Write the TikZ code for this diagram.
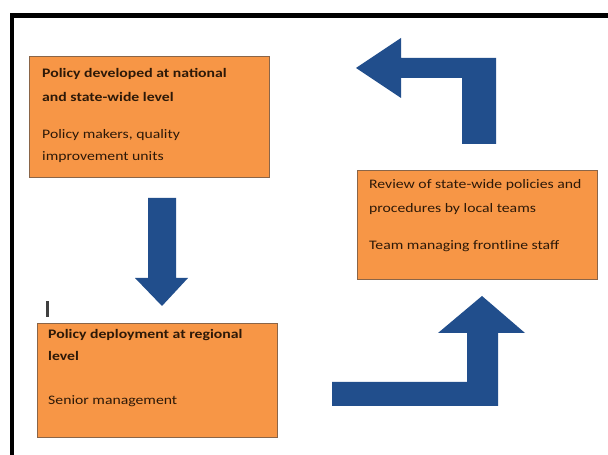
\documentclass[tikz,border=0pt]{standalone}
\usepackage{fontspec}
\setmainfont{Carlito}[FakeStretch=1.21]
\definecolor{boxfill}{HTML}{F79646}
\definecolor{boxline}{HTML}{8A6548}
\definecolor{arrowblue}{RGB}{33,78,140}
\definecolor{txt}{RGB}{45,25,8}
\begin{document}
\begin{tikzpicture}[x=1pt,y=1pt,
  boxshape/.style={draw=boxline,fill=boxfill,line width=1.2pt,inner sep=0pt,anchor=north west},
  boldline/.style={anchor=base west,inner sep=0pt,text=txt,font=\fontsize{13}{16}\selectfont\bfseries},
  plainline/.style={anchor=base west,inner sep=0pt,text=txt,font=\fontsize{13}{16}\selectfont},
  blockarrow/.style={fill=arrowblue,draw=none}]
\useasboundingbox (0,0) rectangle (608,455);
\fill[white] (0,0) rectangle (608,455);
% frame
\draw[line width=4.5pt,line join=miter] (12,0) -- (12,439.5) -- (608,439.5);
% boxes
\node[boxshape,minimum width=240pt,minimum height=121pt] (b1) at (29,399) {};
\node[boxshape,minimum width=240pt,minimum height=114pt] (b2) at (37,132) {};
\node[boxshape,minimum width=240pt,minimum height=109pt] (b3) at (357,285) {};
% box 1 text
\node[boldline] (t1a) at (42,377) {Policy developed at national};
\node[boldline] (t1b) at (42,353) {and state-wide level};
\node[plainline] (t1c) at (42,316) {Policy makers, quality};
\node[plainline] (t1d) at (42,294) {improvement units};
% box 2 text
\node[boldline] (t2a) at (48,116) {Policy deployment at regional};
\node[boldline] (t2b) at (48,94) {level};
\node[plainline] (t2c) at (48,50) {Senior management};
% box 3 text
\node[plainline] (t3a) at (369,266) {Review of state-wide policies and};
\node[plainline] (t3b) at (369,242) {procedures by local teams};
\node[plainline] (t3c) at (369,205) {Team managing frontline staff};
% cursor mark
\fill[black!75] (45.5,138) rectangle (48.5,154);
% down arrow
\path[blockarrow] (148,257) -- (176,257) -- (176,177) -- (188,177) -- (162,149) -- (135,177) -- (148,177) -- cycle;
% up-left arrow (top right)
\path[blockarrow] (496,311) -- (496,397) -- (401,397) -- (401,417) -- (356,387) -- (401,357) -- (401,377) -- (462,377) -- (462,311) -- cycle;
% up arrow (bottom right)
\path[blockarrow] (332,49) -- (498,49) -- (498,122) -- (525,122) -- (482,159) -- (438,122) -- (467,122) -- (467,73) -- (332,73) -- cycle;
\end{tikzpicture}
\end{document}
